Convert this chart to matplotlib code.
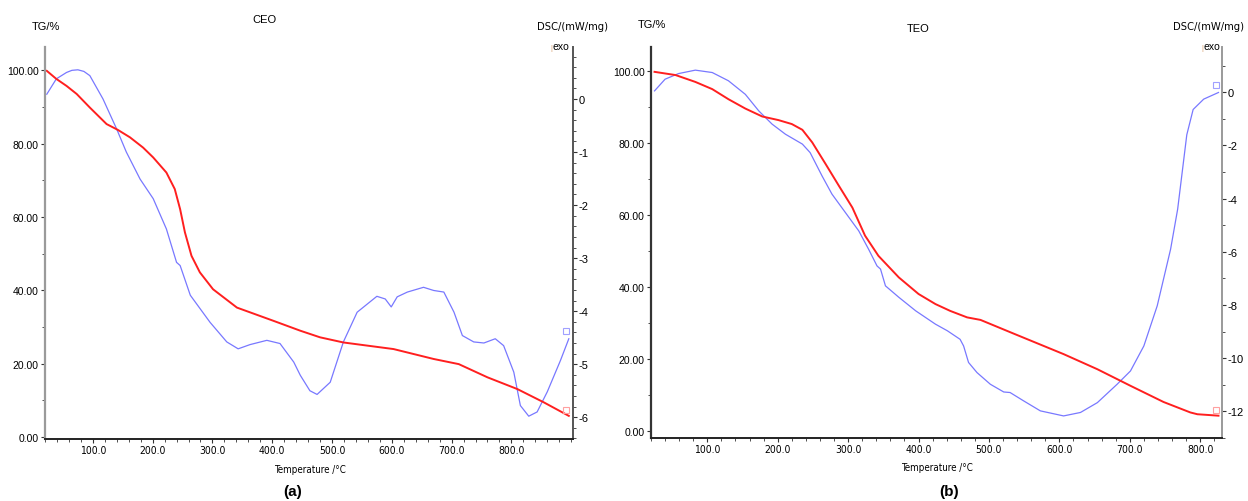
import matplotlib.pyplot as plt
from matplotlib import font_manager
from matplotlib.ticker import MultipleLocator, FixedLocator, FormatStrFormatter

plt.rcParams['font.family'] = ['Liberation Sans', 'DejaVu Sans']

# pick a narrow face for the axis captions if one is installed
_names = {f.name for f in font_manager.fontManager.ttflist}
if 'Liberation Sans Narrow' in _names:
    NARROW = dict(family=['Liberation Sans Narrow', 'Liberation Sans'])
    DSC_SIZE = 8.8
elif any(f.name == 'DejaVu Sans' and f.stretch == 'condensed'
         for f in font_manager.fontManager.ttflist):
    NARROW = dict(family='DejaVu Sans', stretch='condensed')
    DSC_SIZE = 8
else:
    NARROW = dict(family=['Liberation Sans'])
    DSC_SIZE = 7.2

# CEO sample
ceo_tg_temp = [23, 39, 56, 73, 95, 123, 142, 162, 184, 201, 223, 237, 246, 254, 265, 279, 301,
               341, 402, 447, 480, 519, 603, 670, 712, 760, 810, 854, 896]
ceo_tg = [99.8, 97.6, 95.7, 93.5, 89.8, 85.3, 83.7, 81.7, 78.9, 76.2, 72.1, 67.6, 62.1, 55.8,
          49.4, 44.9, 40.3, 35.3, 31.7, 29.0, 27.2, 25.8, 24.0, 21.3, 19.9, 16.3, 13.1, 9.5, 5.8]
ceo_dsc_temp = [23, 39, 56, 65, 75, 85, 95, 117, 140, 156, 179, 201, 223, 240, 246, 263, 296,
                324, 343, 363, 391, 413, 436, 447, 463, 475, 497, 519, 542, 575, 589, 599, 609,
                626, 653, 670, 687, 704, 718, 737, 754, 773, 787, 804, 815, 829, 843, 860, 882,
                896]
ceo_dsc = [0.09, 0.38, 0.50, 0.54, 0.55, 0.52, 0.44, 0.0, -0.57, -1.0, -1.51, -1.88, -2.45,
           -3.08, -3.14, -3.70, -4.21, -4.58, -4.71, -4.63, -4.55, -4.61, -4.96, -5.21, -5.50,
           -5.57, -5.34, -4.58, -4.02, -3.72, -3.77, -3.92, -3.73, -3.64, -3.55, -3.61, -3.64,
           -4.02, -4.46, -4.58, -4.60, -4.52, -4.65, -5.15, -5.78, -5.98, -5.90, -5.52, -4.93,
           -4.52]

# TEO sample
teo_tg_temp = [25, 55, 83, 107, 130, 154, 178, 201, 220, 235, 249, 268, 287, 306, 324, 343,
               372, 400, 424, 445, 469, 488, 535, 606, 654, 701, 748, 786, 796, 826]
teo_tg = [99.8, 98.9, 97.0, 95.0, 92.2, 89.6, 87.4, 86.4, 85.3, 83.7, 80.2, 74.2, 68.1, 62.1,
          54.3, 48.7, 42.7, 38.1, 35.3, 33.4, 31.6, 30.9, 27.1, 21.4, 17.2, 12.6, 8.1, 5.2,
          4.7, 4.3]
teo_dsc_temp = [25, 40, 59, 83, 107, 130, 154, 173, 192, 211, 235, 246, 263, 277, 296, 315,
                329, 341, 346, 353, 372, 396, 424, 441, 459, 464, 471, 483, 502, 521, 530, 549,
                573, 606, 630, 654, 682, 701, 720, 739, 758, 768, 781, 790, 805, 826]
teo_dsc = [0.05, 0.49, 0.70, 0.83, 0.74, 0.43, -0.08, -0.70, -1.20, -1.58, -1.95, -2.27, -3.15,
           -3.83, -4.52, -5.21, -5.90, -6.53, -6.65, -7.28, -7.71, -8.22, -8.72, -8.97, -9.29,
           -9.54, -10.16, -10.54, -10.98, -11.27, -11.29, -11.60, -11.98, -12.17, -12.04,
           -11.67, -10.98, -10.48, -9.54, -8.03, -5.9, -4.4, -1.6, -0.65, -0.26, -0.01]

temp_ticks = [100, 200, 300, 400, 500, 600, 700, 800]

W, H = 1248, 502


def px(x, y):
    return x / W, 1 - y / H


def panel(fig, box, tg_t, tg, dsc_t, dsc, xlim, ylim, dlim, dstep, dminor,
          left_col, right_col):
    l, r, t, b = box
    ax = fig.add_axes([l / W, 1 - b / H, (r - l) / W, (b - t) / H])
    ax2 = ax.twinx()
    ax.set_zorder(ax2.get_zorder() + 1)
    ax.patch.set_visible(False)

    ax2.plot(dsc_t, dsc, color='#7878ff', lw=0.9)
    ax2.plot(dsc_t[-1] - 4, dsc[-1] + (dlim[1] - dlim[0]) * 0.02, marker='s', ms=4,
             mfc='none', mec='#a0a0ff', mew=0.8)
    ax.plot(tg_t, tg, color='#ff1f1f', lw=1.4)
    ax.plot(tg_t[-1] - 4, tg[-1] + 1.5, marker='s', ms=4, mfc='none', mec='#ffa0a0', mew=0.8)

    ax.set_xlim(*xlim)
    ax.set_ylim(*ylim)
    ax2.set_ylim(*dlim)

    ax.xaxis.set_major_locator(FixedLocator(temp_ticks))
    ax.xaxis.set_minor_locator(MultipleLocator(20))
    ax.xaxis.set_major_formatter(FormatStrFormatter('%.1f'))
    ax.yaxis.set_major_locator(MultipleLocator(20))
    ax.yaxis.set_minor_locator(MultipleLocator(10))
    ax.yaxis.set_major_formatter(FormatStrFormatter('%.2f'))
    ax2.yaxis.set_major_locator(MultipleLocator(dstep))
    ax2.yaxis.set_minor_locator(MultipleLocator(dminor))
    ax2.yaxis.set_major_formatter(FormatStrFormatter('%d'))

    for a in (ax, ax2):
        a.spines['top'].set_visible(False)
    ax.spines['right'].set_visible(False)
    ax2.spines['left'].set_visible(False)
    ax2.spines['bottom'].set_visible(False)
    ax.spines['left'].set_color(left_col)
    ax.spines['left'].set_linewidth(1.6)
    ax.spines['bottom'].set_color('#222222')
    ax.spines['bottom'].set_linewidth(1.4)
    ax2.spines['right'].set_color(right_col)
    ax2.spines['right'].set_linewidth(1.4)

    ax.tick_params(axis='both', which='major', length=3, width=0.8, color='#333333',
                   labelsize=7.5, pad=1.5)
    ax.tick_params(axis='both', which='minor', length=2, width=0.6, color='#333333')
    ax2.tick_params(axis='y', which='major', length=3, width=0.8, color='#333333',
                    labelsize=8, pad=1)
    ax2.tick_params(axis='y', which='minor', length=2, width=0.6, color='#333333')
    for lab in ax.get_xticklabels():
        lab.set_fontproperties(font_manager.FontProperties(size=7.5, **NARROW))
    return ax, ax2


fig = plt.figure(figsize=(W / 100, H / 100), dpi=100)

panel(fig, (45, 573, 48, 440), ceo_tg_temp, ceo_tg, ceo_dsc_temp, ceo_dsc,
      (20, 903), (-0.5, 106.3), (-6.41, 0.98), 1, 0.2, '#9a9a9a', '#555555')
panel(fig, (651, 1222, 48, 439), teo_tg_temp, teo_tg, teo_dsc_temp, teo_dsc,
      (20, 831), (-1.9, 106.7), (-13.0, 1.7), 2, 1, '#333333', '#9a9a9a')

# headings and axis captions
for x, y, s in [(46, 27, 'TG/%'), (652, 25, 'TG/%')]:
    fig.text(*px(x, y), s, ha='center', va='center', fontsize=8)
fig.text(*px(264, 20), 'CEO', ha='center', va='center', fontsize=8)
fig.text(*px(918, 29), 'TEO', ha='center', va='center', fontsize=8)
for x in (573, 1209):
    fig.text(*px(x, 27), 'DSC/(mW/mg)', ha='center', va='center', fontsize=DSC_SIZE,
             **NARROW)
for x in (561, 1212):
    fig.text(*px(x, 47), 'exo', ha='center', va='center', fontsize=7.5)
    fig.text(*px(x - 10, 49), '|', ha='center', va='center', fontsize=5, color='#d8a070')
fig.text(*px(310, 470), 'Temperature /°C', ha='center', va='center', fontsize=7, **NARROW)
fig.text(*px(937, 468), 'Temperature /°C', ha='center', va='center', fontsize=7, **NARROW)
fig.text(*px(293, 492), '(a)', ha='center', va='center', fontsize=11, fontweight='bold')
fig.text(*px(949, 492), '(b)', ha='center', va='center', fontsize=11, fontweight='bold')

fig.savefig('out.png', dpi=100)
